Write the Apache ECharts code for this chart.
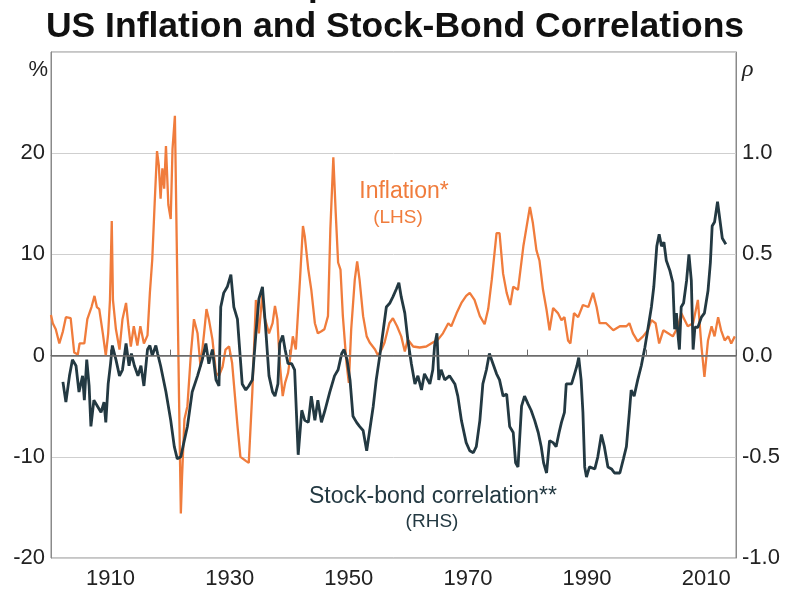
<!DOCTYPE html>
<html>
<head>
<meta charset="utf-8">
<script src="https://cdn.jsdelivr.net/npm/echarts@6/dist/echarts.min.js"></script>
<style>
html,body{margin:0;padding:0;background:#fff;}
#c{width:787px;height:593px;}
</style>
</head>
<body>
<div id="c"></div>
<script>
// Inflation (%), [year, value]
var inflation = [[1900.0,4.0],[1900.3,3.2],[1900.8,2.6],[1901.4,1.2],[1902.0,2.4],[1902.5,3.8],[1903.3,3.7],[1903.9,0.3],[1904.5,0.1],[1904.8,1.2],[1905.6,1.2],[1906.1,3.6],[1906.8,4.8],[1907.3,5.9],[1907.7,4.8],[1908.1,4.6],[1908.7,2.2],[1909.2,0.0],[1909.6,2.2],[1909.9,5.5],[1910.2,13.3],[1910.4,5.5],[1910.9,2.6],[1911.5,0.6],[1912.0,3.6],[1912.6,5.2],[1913.0,2.9],[1913.4,0.9],[1913.9,2.9],[1914.5,1.0],[1915.0,2.9],[1915.6,1.2],[1916.2,2.0],[1916.6,6.2],[1917.0,9.5],[1917.4,15],[1917.8,20.2],[1918.1,18.8],[1918.4,15.5],[1918.7,18.5],[1919.0,16.5],[1919.3,20.7],[1919.7,14.9],[1920.1,13.5],[1920.4,20.4],[1920.8,23.7],[1921.1,11.5],[1921.5,-4.4],[1921.8,-15.6],[1922.0,-12],[1922.4,-6.3],[1922.9,-5.0],[1923.5,0.3],[1924.0,3.6],[1924.6,2.2],[1925.1,-1.1],[1925.7,2.2],[1926.1,4.6],[1926.5,3.6],[1927.1,1.6],[1927.7,-1.7],[1928.2,-2.0],[1928.8,-1.1],[1929.3,0.6],[1929.9,0.9],[1930.4,-0.7],[1931.3,-6.9],[1931.8,-10.0],[1932.7,-10.4],[1933.2,-10.6],[1933.8,-3.6],[1934.4,5.5],[1934.9,2.2],[1935.5,6.2],[1935.8,3.9],[1936.6,2.2],[1937.2,3.2],[1937.6,4.9],[1938.0,3.6],[1938.4,-0.7],[1938.9,-4.0],[1939.3,-2.7],[1939.8,-1.7],[1940.2,0],[1940.6,1.9],[1941.1,0.6],[1941.8,7.5],[1942.3,12.8],[1942.6,11.8],[1943.2,8.5],[1943.7,6.5],[1944.3,3.2],[1944.8,2.2],[1945.4,2.4],[1945.9,2.6],[1946.5,3.9],[1946.9,12.5],[1947.4,19.6],[1947.8,14.1],[1948.2,9.2],[1948.6,8.5],[1949.0,3.9],[1949.6,-0.7],[1950.0,-2.7],[1950.4,2.6],[1951.0,7.5],[1951.4,9.3],[1951.8,7.5],[1952.4,3.9],[1953.0,1.9],[1953.5,1.3],[1954.4,0.6],[1954.9,0.0],[1955.5,0.6],[1956.0,1.3],[1956.8,3.2],[1957.4,3.7],[1958.1,2.9],[1958.8,1.9],[1959.4,0.4],[1959.9,1.6],[1960.8,0.9],[1961.9,0.8],[1963.0,0.9],[1964.1,1.3],[1965.0,1.6],[1965.8,2.2],[1966.7,3.2],[1967.2,2.9],[1968.1,4.2],[1968.9,5.2],[1969.7,5.9],[1970.3,6.2],[1971.1,5.5],[1972.0,3.9],[1972.8,3.1],[1973.4,4.6],[1974.0,7.5],[1974.8,12.1],[1975.3,12.1],[1975.9,8.1],[1976.5,6.2],[1977.1,5.0],[1977.6,6.8],[1978.4,6.5],[1979.3,10.8],[1980.4,14.7],[1980.9,13.1],[1981.5,10.4],[1982.0,9.4],[1982.6,6.5],[1983.2,4.5],[1983.7,2.5],[1984.3,4.7],[1985.1,4.2],[1985.7,3.5],[1986.2,3.8],[1986.8,1.5],[1987.2,1.2],[1987.8,4.2],[1988.5,3.8],[1989.3,5.0],[1990.2,4.8],[1991.0,6.2],[1991.6,4.8],[1992.1,3.2],[1993.2,3.2],[1994.4,2.5],[1995.5,2.9],[1996.6,2.9],[1997.1,3.2],[1997.7,2.2],[1998.5,1.4],[1999.4,1.9],[2000.2,2.5],[2000.8,3.5],[2001.5,3.2],[2002.1,1.2],[2002.8,2.5],[2003.6,2.2],[2004.4,1.9],[2005.3,2.9],[2005.8,4.2],[2006.4,3.5],[2006.9,2.9],[2007.8,3.2],[2008.6,5.5],[2009.2,0.9],[2009.7,-2.1],[2010.3,1.5],[2010.9,2.9],[2011.4,1.9],[2012.0,3.8],[2012.5,2.5],[2013.1,1.5],[2013.7,1.9],[2014.2,1.2],[2014.8,1.9]];

// Stock-bond correlation (rho), [year, value]
var correlation = [[1902.0,-0.13],[1902.5,-0.23],[1903.1,-0.10],[1903.6,-0.02],[1904.2,-0.05],[1904.7,-0.18],[1905.3,-0.10],[1905.6,-0.22],[1906.0,-0.02],[1906.4,-0.15],[1906.7,-0.35],[1907.2,-0.22],[1907.8,-0.25],[1908.4,-0.28],[1908.9,-0.23],[1909.2,-0.33],[1909.6,-0.14],[1910.0,-0.04],[1910.3,0.05],[1910.9,-0.02],[1911.5,-0.10],[1912.0,-0.07],[1912.6,0.06],[1913.1,-0.05],[1913.5,0.01],[1914.0,-0.05],[1914.6,-0.10],[1915.1,-0.05],[1915.6,-0.15],[1916.2,0.03],[1916.6,0.05],[1917.0,0.0],[1917.6,0.05],[1917.9,0.01],[1918.4,-0.05],[1919.3,-0.18],[1920.1,-0.32],[1920.7,-0.45],[1921.2,-0.51],[1921.8,-0.50],[1922.3,-0.43],[1922.9,-0.35],[1923.7,-0.18],[1924.6,-0.10],[1925.4,-0.02],[1926.0,0.06],[1926.5,-0.04],[1927.1,0.03],[1927.7,-0.12],[1928.2,-0.15],[1928.5,0.24],[1929.0,0.31],[1929.6,0.34],[1930.2,0.40],[1930.7,0.24],[1931.3,0.18],[1931.8,-0.02],[1932.1,-0.14],[1932.7,-0.17],[1933.2,-0.15],[1933.8,-0.12],[1934.4,0.11],[1934.9,0.28],[1935.5,0.34],[1936.0,0.15],[1936.6,-0.10],[1937.2,-0.18],[1937.6,-0.20],[1938.1,-0.14],[1938.4,0.06],[1938.9,0.10],[1939.3,0.03],[1939.8,-0.04],[1940.4,-0.04],[1940.9,-0.07],[1941.5,-0.49],[1942.1,-0.27],[1942.6,-0.32],[1943.2,-0.33],[1943.7,-0.20],[1944.3,-0.32],[1944.8,-0.22],[1945.4,-0.33],[1946.0,-0.27],[1946.8,-0.18],[1947.6,-0.10],[1948.2,-0.07],[1948.8,0.01],[1949.2,0.03],[1949.7,-0.02],[1950.2,-0.12],[1950.7,-0.30],[1951.3,-0.33],[1951.8,-0.35],[1952.4,-0.37],[1953.0,-0.47],[1953.5,-0.37],[1954.1,-0.25],[1954.6,-0.12],[1955.2,0.0],[1955.8,0.13],[1956.3,0.24],[1956.9,0.26],[1957.4,0.29],[1958.0,0.33],[1958.4,0.36],[1958.8,0.29],[1959.4,0.21],[1959.9,0.08],[1960.5,-0.04],[1961.1,-0.14],[1961.6,-0.10],[1962.2,-0.17],[1962.7,-0.09],[1963.6,-0.14],[1964.1,-0.07],[1964.4,0.05],[1964.8,0.11],[1965.1,-0.12],[1965.5,-0.07],[1966.1,-0.12],[1966.9,-0.10],[1967.8,-0.14],[1968.3,-0.20],[1968.9,-0.32],[1969.7,-0.43],[1970.3,-0.47],[1970.9,-0.48],[1971.4,-0.45],[1972.0,-0.32],[1972.5,-0.14],[1973.1,-0.07],[1973.6,0.01],[1974.2,-0.04],[1974.8,-0.09],[1975.3,-0.12],[1975.9,-0.20],[1976.5,-0.19],[1977.0,-0.35],[1977.6,-0.38],[1978.0,-0.53],[1978.4,-0.55],[1979.0,-0.25],[1979.5,-0.20],[1980.1,-0.24],[1980.6,-0.27],[1981.2,-0.32],[1981.8,-0.38],[1982.3,-0.45],[1982.7,-0.53],[1983.2,-0.58],[1983.7,-0.42],[1984.3,-0.43],[1984.8,-0.45],[1985.3,-0.38],[1985.7,-0.33],[1986.2,-0.28],[1986.5,-0.14],[1987.4,-0.14],[1987.9,-0.09],[1988.3,-0.05],[1988.6,-0.01],[1989.0,-0.12],[1989.3,-0.28],[1989.6,-0.55],[1989.9,-0.60],[1990.4,-0.55],[1991.3,-0.56],[1991.8,-0.50],[1992.4,-0.39],[1992.9,-0.45],[1993.5,-0.55],[1994.1,-0.56],[1994.6,-0.58],[1995.5,-0.58],[1996.1,-0.51],[1996.6,-0.45],[1997.1,-0.28],[1997.4,-0.17],[1997.9,-0.20],[1998.5,-0.12],[1999.1,-0.05],[1999.7,0.04],[2000.2,0.13],[2000.8,0.24],[2001.2,0.34],[2001.7,0.54],[2002.1,0.60],[2002.5,0.54],[2002.9,0.56],[2003.3,0.47],[2003.9,0.42],[2004.4,0.36],[2004.7,0.13],[2005.0,0.21],[2005.3,0.09],[2005.5,0.03],[2005.8,0.24],[2006.2,0.26],[2006.7,0.37],[2007.1,0.50],[2007.5,0.37],[2007.8,0.03],[2008.1,0.14],[2008.6,0.14],[2009.2,0.19],[2009.7,0.21],[2010.3,0.32],[2010.7,0.46],[2011.0,0.64],[2011.4,0.66],[2011.9,0.76],[2012.3,0.67],[2012.7,0.58],[2013.3,0.55]];

var xLabels = [1910, 1930, 1950, 1970, 1990, 2010];
var leftLabels = [-20, -10, 0, 10, 20];
var rightLabels = [-1.0, -0.5, 0.0, 0.5, 1.0];

var ORANGE = '#F07C3C';
var DARK = '#233942';
var FONT = 'Liberation Sans, Arial, sans-serif';

var chart = echarts.init(document.getElementById('c'));
chart.setOption({
  animation: false,
  backgroundColor: '#fff',
  grid: {left: 51, right: 51, top: 52, bottom: 35, show: true, borderColor: '#8a8a8a', borderWidth: 1},
  xAxis: {
    type: 'value', min: 1900, max: 2015, interval: 10,
    axisLine: {show: true, lineStyle: {color: '#6a6a6a', width: 1}},
    axisTick: {show: true, inside: true, length: 6, lineStyle: {color: '#6a6a6a'}},
    splitLine: {show: false},
    axisLabel: {
      margin: 10, fontFamily: FONT, fontSize: 22, color: '#222',
      formatter: function (v) { return xLabels.indexOf(v) >= 0 ? String(v) : ''; }
    }
  },
  yAxis: [{
    type: 'value', min: -20, max: 30, interval: 10, position: 'left',
    axisLine: {show: true, lineStyle: {color: '#8a8a8a'}},
    axisTick: {show: false},
    splitLine: {show: true, lineStyle: {color: '#cfcfcf', width: 1}},
    axisLabel: {
      margin: 6, fontFamily: FONT, fontSize: 22, color: '#222',
      formatter: function (v) { return leftLabels.indexOf(v) >= 0 ? String(v) : ''; }
    }
  }, {
    type: 'value', min: -1, max: 1.5, interval: 0.5, position: 'right',
    axisLine: {show: true, lineStyle: {color: '#8a8a8a'}},
    axisTick: {show: false},
    splitLine: {show: false},
    axisLabel: {
      margin: 6, fontFamily: FONT, fontSize: 22, color: '#222',
      formatter: function (v) {
        for (var i = 0; i < rightLabels.length; i++) { if (Math.abs(rightLabels[i] - v) < 1e-9) return v.toFixed(1); }
        return '';
      }
    }
  }],
  series: [{
    name: 'Inflation', type: 'line', yAxisIndex: 0, data: inflation,
    showSymbol: false, symbol: 'none',
    lineStyle: {color: ORANGE, width: 2.3}, z: 3,
    markLine: {
      silent: true, symbol: 'none', label: {show: false},
      lineStyle: {color: '#6e6e6e', width: 1.5, type: 'solid'},
      data: [{yAxis: 0}]
    }
  }, {
    name: 'Stock-bond correlation', type: 'line', yAxisIndex: 1, data: correlation,
    showSymbol: false, symbol: 'none',
    lineStyle: {color: DARK, width: 2.8}, z: 4
  }],
  graphic: [
    {type: 'text', x: 308, y: -14, style: {text: 'p', fontFamily: FONT, fontWeight: 'bold', fontSize: 35, fill: '#111', textVerticalAlign: 'middle'}},
    {type: 'text', x: 395, y: 27, style: {text: 'US Inflation and Stock-Bond Correlations', fontFamily: FONT, fontWeight: 'bold', fontSize: 35.5, fill: '#111', textAlign: 'center', textVerticalAlign: 'middle'}},
    {type: 'text', x: 48, y: 70, style: {text: '%', fontFamily: FONT, fontSize: 22, fill: '#222', textAlign: 'right', textVerticalAlign: 'middle'}},
    {type: 'text', x: 742, y: 70, style: {text: 'ρ', fontFamily: 'Liberation Serif, serif', fontStyle: 'italic', fontSize: 24, fill: '#222', textAlign: 'left', textVerticalAlign: 'middle'}},
    {type: 'text', x: 404, y: 192, style: {text: 'Inflation*', fontFamily: FONT, fontSize: 23, fill: ORANGE, textAlign: 'center', textVerticalAlign: 'middle'}},
    {type: 'text', x: 398, y: 218, style: {text: '(LHS)', fontFamily: FONT, fontSize: 19, fill: ORANGE, textAlign: 'center', textVerticalAlign: 'middle'}},
    {type: 'text', x: 433, y: 497, style: {text: 'Stock-bond correlation**', fontFamily: FONT, fontSize: 23, fill: DARK, textAlign: 'center', textVerticalAlign: 'middle'}},
    {type: 'text', x: 432, y: 522, style: {text: '(RHS)', fontFamily: FONT, fontSize: 19, fill: DARK, textAlign: 'center', textVerticalAlign: 'middle'}}
  ]
});
</script>
</body>
</html>
